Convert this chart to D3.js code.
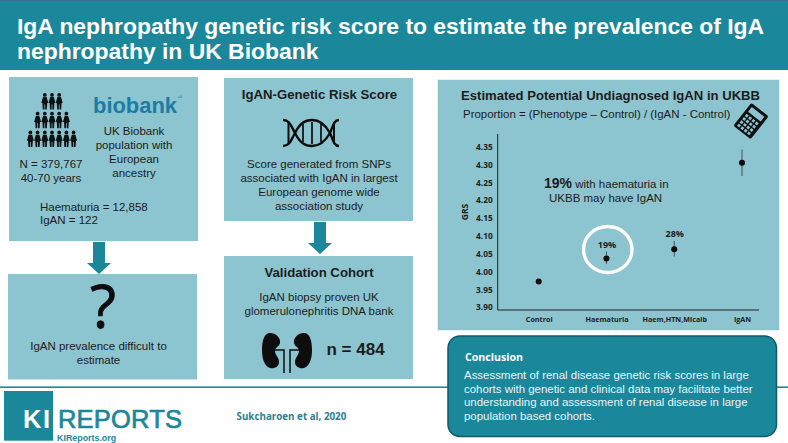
<!DOCTYPE html>
<html>
<head>
<meta charset="utf-8">
<script src="https://cdn.jsdelivr.net/npm/d3@7"></script>
<style>
  html, body { margin: 0; padding: 0; background: #fff; overflow: hidden; }
  text { font-family: "Liberation Sans", Arial, sans-serif; fill: #1c1c1c; }
  .axis text { font-family: "Open Sans", sans-serif; font-weight: 700; fill: #222; }
</style>
</head>
<body>
<svg id="fig" width="788" height="443"></svg>
<script>
// values
const categories = ["Control", "Haematuria", "Haem,HTN,Micalb", "IgAN"];
const grs = [3.972, 4.037, 4.063, 4.305];
const grsLow = [3.967, 4.022, 4.042, 4.268];
const grsHigh = [3.977, 4.056, 4.086, 4.342];
const pctLabels = ["", "19%", "28%", ""];
const yTicks = [3.90, 3.95, 4.00, 4.05, 4.10, 4.15, 4.20, 4.25, 4.30, 4.35];

const titleLines = ["IgA nephropathy genetic risk score to estimate the prevalence of IgA", "nephropathy in UK Biobank"];
const ukbLines = ["UK Biobank", "population with", "European", "ancestry"];
const grsLines = ["Score generated from SNPs", "associated with IgAN in largest", "European genome wide", "association study"];
const valLines = ["IgAN biopsy proven UK", "glomerulonephritis DNA bank"];
const conclusionLines = [
  "Assessment of renal disease genetic risk scores in large",
  "cohorts with genetic and clinical data may facilitate better",
  "understanding and assessment of renal disease in large",
  "population based cohorts."
];
const peopleRows = [3, 5, 7];

const TEAL = "#1b879b", PANEL = "#8cc4cf";
const svg = d3.select("#fig");

function lines(g, arr, x, y, lh, size, anchor, fill, weight) {
  g.append("g").selectAll("text").data(arr).enter().append("text")
    .attr("x", x)
    .attr("y", function(d, i) { return y + i * lh; })
    .attr("text-anchor", anchor || "middle")
    .attr("font-size", size)
    .attr("font-weight", weight || 400)
    .style("fill", fill || null)
    .text(function(d) { return d; });
}

function panel(x, y, w, h) {
  svg.append("rect").attr("x", x).attr("y", y).attr("width", w).attr("height", h).attr("fill", PANEL);
}

function arrow(cx, y0) {
  const p = d3.path();
  p.moveTo(cx - 6, y0); p.lineTo(cx + 6, y0); p.lineTo(cx + 6, y0 + 21);
  p.lineTo(cx + 12, y0 + 21); p.lineTo(cx, y0 + 32); p.lineTo(cx - 12, y0 + 21);
  p.lineTo(cx - 6, y0 + 21); p.closePath();
  svg.append("path").attr("d", p.toString()).attr("fill", TEAL);
}

// header
svg.append("rect").attr("width", 788).attr("height", 70).attr("fill", TEAL);
svg.append("rect").attr("width", 788).attr("height", 1).attr("fill", "#3d6f94");
lines(svg, titleLines, 17, 33.5, 25, 22.9, "start", "#fff", 700);

// footer rule
svg.append("rect").attr("x", 0).attr("y", 386.4).attr("width", 788).attr("height", 1.6).attr("fill", TEAL);

// panels
panel(9, 77, 189, 164);
panel(8, 274, 189, 105.5);
panel(224, 78, 189, 143);
panel(224, 256, 189, 123);
svg.append("rect").attr("x", 437).attr("y", 79).attr("width", 343).attr("height", 252).attr("fill", "#e2f2f5");
panel(438, 80, 341, 250);
arrow(99, 242);
arrow(320, 222);

// people pyramid
const people = svg.append("g");
peopleRows.forEach(function(n, r) {
  const cy = 100.5 + r * 18.8;
  d3.range(n).forEach(function(i) {
    const px = 52 + (i - (n - 1) / 2) * 7.2;
    const g = people.append("g").attr("transform", "translate(" + px + "," + cy + ")");
    g.append("circle").attr("cy", -5.6).attr("r", 1.9).attr("fill", "#111");
    g.append("path").attr("fill", "#111")
      .attr("d", "M-1.8,-3.4 H1.8 L3.5,2.6 H2.4 L2,9 H0.35 V4 H-0.35 V9 H-2 L-2.4,2.6 H-3.5 Z");
  });
});

// biobank logo as text
svg.append("text").attr("x", 93).attr("y", 112.5).attr("font-size", 22).attr("font-weight", 700)
  .style("fill", "#1b7ca6").attr("textLength", 84).attr("lengthAdjust", "spacingAndGlyphs").text("biobank");
svg.append("text").attr("x", 178).attr("y", 98).attr("font-size", 4).style("fill", "#1b7ca6").text("uk");

lines(svg, ukbLines, 134, 134.5, 14, 11.5);
lines(svg, ["N = 379,767", "40-70 years"], 51, 167.5, 14, 11.5);
lines(svg, ["Haematuria = 12,858", "IgAN = 122"], 40, 211, 13.4, 11.5, "start");

// question mark panel
svg.append("text").attr("x", 103).attr("y", 328).attr("text-anchor", "middle").attr("font-size", 60)
  .style("font-family", "'Open Sans', sans-serif").style("fill", "#0d0d0d")
  .attr("stroke", "#0d0d0d").attr("stroke-width", 0.8).text("?");
lines(svg, ["IgAN prevalence difficult to", "estimate"], 98.5, 350, 13.5, 11.5);

// GRS panel
svg.append("text").attr("x", 319.5).attr("y", 99).attr("text-anchor", "middle").attr("font-size", 13.2).attr("font-weight", 700).text("IgAN-Genetic Risk Score");
const dna = svg.append("g").attr("fill", "none").attr("stroke", "#0d0d0d").attr("stroke-width", 2.4);
dna.append("path").attr("d", "M283,120 C290,120 291,126 295,133 C300,143 305,146 312,146 C320,146 325,142 330,133 C333,126 334,120 339,120");
dna.append("path").attr("d", "M283,146 C290,146 291,140 295,133 C300,123 305,120 312,120 C320,120 325,124 330,133 C333,140 334,146 339,146");
dna.append("path").attr("stroke-width", 2).attr("d", "M288.5,122 V144 M334,122 V144");
dna.append("path").attr("stroke-width", 1.7).attr("d", "M303,124 V142 M312,122 V144 M321,124 V142");
lines(svg, grsLines, 319, 168, 13.9, 11.5);

// validation panel
svg.append("text").attr("x", 319).attr("y", 277).attr("text-anchor", "middle").attr("font-size", 13.2).attr("font-weight", 700).text("Validation Cohort");
lines(svg, valLines, 319, 301, 13.6, 11.5);
const kid = svg.append("g");
const bean = "M270,333 C276,333 281,338 280,343 C279,347 275,347 275,351 C275,355 279,357 279,362 C279,367 274,369 270,368 C264,366 262,358 262,350 C262,341 264,333 270,333 Z";
kid.append("path").attr("d", bean).attr("fill", "#0d0d0d");
kid.append("path").attr("d", bean).attr("fill", "#0d0d0d").attr("transform", "translate(574,0) scale(-1,1)");
kid.append("path").attr("fill", "none").attr("stroke", "#0d0d0d").attr("stroke-width", 1.5)
  .attr("d", "M274,350 H284 V373 M300,350 H290 V373");
svg.append("text").attr("x", 326.5).attr("y", 355).attr("font-size", 17).attr("font-weight", 700).text("n = 484");

// chart panel headings
svg.append("text").attr("x", 610.5).attr("y", 100).attr("text-anchor", "middle").attr("font-size", 13.1).attr("font-weight", 700).text("Estimated Potential Undiagnosed IgAN in UKBB");
svg.append("text").attr("x", 463).attr("y", 118).attr("font-size", 11.45).text("Proportion = (Phenotype \u2013 Control) / (IgAN - Control)");

// calculator
const calc = svg.append("g").attr("transform", "translate(751,121) rotate(38)");
calc.append("rect").attr("x", -11).attr("y", -14.5).attr("width", 22).attr("height", 29).attr("rx", 2).attr("fill", "#111");
calc.append("rect").attr("x", -8).attr("y", -11.5).attr("width", 16).attr("height", 6).attr("fill", PANEL);
d3.range(4).forEach(function(c) {
  d3.range(4).forEach(function(r) {
    calc.append("rect").attr("x", -8 + c * 4.2).attr("y", -3 + r * 4.2).attr("width", 2.8).attr("height", 2.8).attr("fill", PANEL);
  });
});

// scatter
const x = d3.scalePoint().domain(categories).range([538.7, 742]);
const y = d3.scaleLinear().domain([3.90, 4.35]).range([307.3, 146.7]);

const yAxis = svg.append("g").attr("class", "axis").attr("transform", "translate(497.7,0)")
  .call(d3.axisLeft(y).tickValues(yTicks).tickFormat(d3.format(".2f")).tickSize(0).tickPadding(5));
yAxis.select(".domain").attr("d", "M0,134V310").attr("stroke", "#222").attr("stroke-width", 1);
yAxis.selectAll("text").attr("font-size", 8.3);

const xAxis = svg.append("g").attr("class", "axis").attr("transform", "translate(0,310)")
  .call(d3.axisBottom(x).tickSize(0).tickPadding(7));
xAxis.select(".domain").attr("d", "M497.7,0H759").attr("stroke", "#222").attr("stroke-width", 1);
xAxis.selectAll("text").attr("font-size", 7.2);

svg.append("text").attr("transform", "translate(468,212) rotate(-90)").attr("text-anchor", "middle")
  .attr("font-size", 8.6).attr("font-weight", 700).style("font-family", "'Open Sans', sans-serif").text("GRS");

svg.selectAll("line.err").data(categories).enter().append("line").attr("class", "err")
  .attr("x1", function(d) { return x(d); }).attr("x2", function(d) { return x(d); })
  .attr("y1", function(d, i) { return y(grsLow[i]); })
  .attr("y2", function(d, i) { return y(grsHigh[i]); })
  .attr("stroke", "#333").attr("stroke-width", 0.8);
svg.selectAll("circle.pt").data(categories).enter().append("circle").attr("class", "pt")
  .attr("cx", function(d) { return x(d); })
  .attr("cy", function(d, i) { return y(grs[i]); })
  .attr("r", 3).attr("fill", "#0a0a0a");

// highlight ring
svg.append("ellipse").attr("cx", x("Haematuria") + 1.3).attr("cy", 249.5).attr("rx", 24.2).attr("ry", 23)
  .attr("fill", "none").attr("stroke", "#fff").attr("stroke-width", 3.3);

svg.selectAll("text.pct").data(categories).enter().append("text").attr("class", "pct")
  .attr("x", function(d) { return x(d) + 0.5; })
  .attr("y", function(d, i) { return i === 2 ? 237 : 247.5; })
  .attr("text-anchor", "middle").attr("font-size", 9).attr("font-weight", 700)
  .style("font-family", "'Open Sans', sans-serif")
  .text(function(d, i) { return pctLabels[i]; });

// annotation
const note = svg.append("text").attr("x", 544).attr("y", 188).attr("font-size", 11.5);
note.append("tspan").attr("font-size", 14).attr("font-weight", 700).text("19%");
note.append("tspan").text(" with haematuria in");
svg.append("text").attr("x", 549).attr("y", 202).attr("font-size", 11.5).text("UKBB may have IgAN");

// conclusion box
svg.append("rect").attr("x", 448).attr("y", 336).attr("width", 328.5).attr("height", 100.5).attr("rx", 12)
  .attr("fill", TEAL).attr("stroke", "#10596a").attr("stroke-width", 1.5);
svg.append("text").attr("x", 465).attr("y", 360.7).attr("font-size", 10.6).attr("font-weight", 700)
  .style("fill", "#fff").style("font-family", "'Open Sans', sans-serif").text("Conclusion");
lines(svg, conclusionLines, 464, 379, 13.7, 11.45, "start", "#eaf4f6");

// KI Reports logo
svg.append("rect").attr("x", 4).attr("y", 391).attr("width", 49).attr("height", 49.7).attr("fill", TEAL);
svg.append("text").attr("x", 23).attr("y", 428).attr("font-size", 25.5).attr("textLength", 27).attr("font-weight", 700).style("fill", "#fff").text("KI");
svg.append("text").attr("x", 58).attr("y", 428).attr("font-size", 25.5).attr("textLength", 124)
  .attr("stroke", TEAL).attr("stroke-width", 0.7).style("fill", TEAL).text("REPORTS");
svg.append("text").attr("x", 57).attr("y", 441).attr("font-size", 8.9).attr("font-weight", 700).style("fill", TEAL).text("KIReports.org");
svg.append("text").attr("x", 236.5).attr("y", 420).attr("font-size", 9.8).attr("font-weight", 700)
  .style("fill", "#2d7f94").style("font-family", "'Open Sans', sans-serif").text("Sukcharoen et al, 2020");
</script>
</body>
</html>
